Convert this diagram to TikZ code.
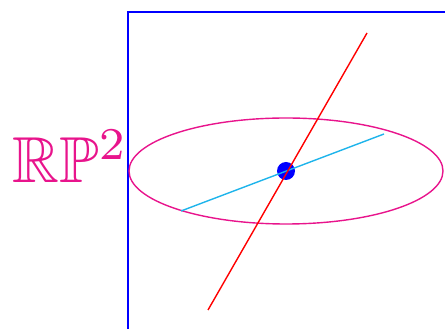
\documentclass[tikz,border=0pt]{standalone}
\usepackage{amssymb}
\usepackage{graphicx}
\usepackage{tikz}
\definecolor{rpink}{RGB}{232,20,140}
\definecolor{linecyan}{RGB}{30,180,235}

\begin{document}
\begin{tikzpicture}[x=1pt,y=1pt,
  frame/.style={blue,line width=1.2pt},
  ray/.style={line width=1.4pt}]
\useasboundingbox (0,0) rectangle (445,329);
% frame
\coordinate (corner) at (128,317);
\draw[frame] (128,0) -- (corner) -- (445,317);
% plane and origin
\coordinate (o) at (286,158);
\draw[rpink,line width=1.4pt] (o) ellipse [x radius=157, y radius=53];
\fill[blue] (o) circle (9);
\coordinate (c1) at (181,118);
\coordinate (c2) at (384,195);
\coordinate (r1) at (208,19);
\coordinate (r2) at (367,296);
\draw[ray,linecyan] (c1) -- (c2);
\draw[ray,red] (r1) -- (r2);
\node[anchor=base west,inner sep=0pt,text=rpink] (label) at (12,146) {\scalebox{6.5}{$\mathbb{R}\mathbb{P}^2$}};
\end{tikzpicture}
\end{document}
